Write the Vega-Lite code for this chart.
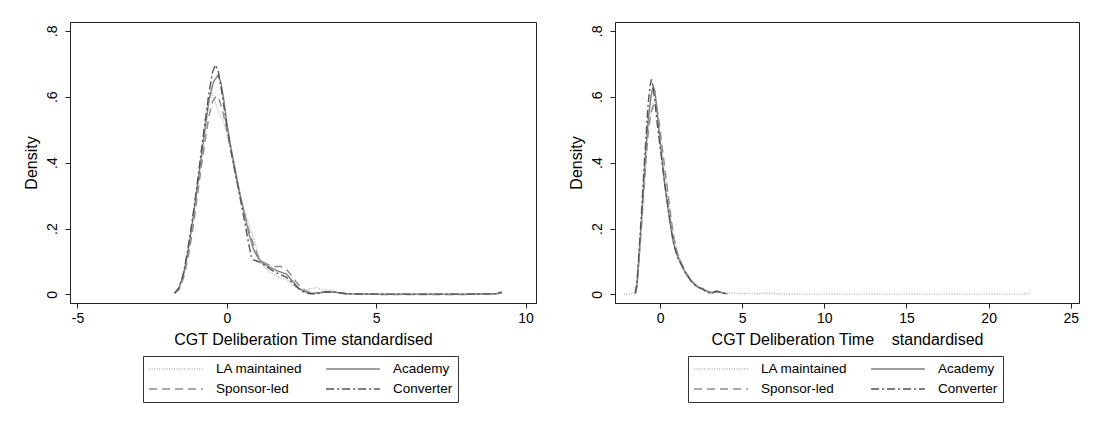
{
  "$schema": "https://vega.github.io/schema/vega-lite/v6.json",
  "background": "white",
  "padding": {"left": 22, "top": 21, "right": 5, "bottom": 5},
  "config": {
    "font": "Liberation Sans",
    "view": {"stroke": "#222", "strokeWidth": 1},
    "axis": {"grid": false, "domainColor": "#222", "tickColor": "#222", "labelColor": "black", "titleColor": "black", "titleFontWeight": "normal", "tickSize": 5, "labelFontSize": 14, "titleFontSize": 16, "labelFlush": false, "labelOverlap": false},
    "legend": {"title": null, "orient": "none", "legendX": 73, "legendY": 334, "direction": "horizontal", "columns": 2, "symbolType": "stroke", "symbolSize": 2900, "symbolStrokeWidth": 1.4, "labelFontSize": 13.5, "labelColor": "black", "labelOffset": 12, "columnPadding": 22, "rowPadding": 4, "clipHeight": 16, "padding": 5, "strokeColor": "#333", "labelLimit": 200},
    "concat": {"spacing": 30}
  },
  "datasets": {
    "left": [
      {"type":"LA maintained","x":-1.75,"y":0.004},{"type":"LA maintained","x":-1.6,"y":0.02},{"type":"LA maintained","x":-1.45,"y":0.06},{"type":"LA maintained","x":-1.3,"y":0.13},{"type":"LA maintained","x":-1.15,"y":0.21},{"type":"LA maintained","x":-1.0,"y":0.31},{"type":"LA maintained","x":-0.85,"y":0.41},{"type":"LA maintained","x":-0.72,"y":0.5},{"type":"LA maintained","x":-0.6,"y":0.58},{"type":"LA maintained","x":-0.52,"y":0.612},{"type":"LA maintained","x":-0.45,"y":0.6},{"type":"LA maintained","x":-0.35,"y":0.575},{"type":"LA maintained","x":-0.25,"y":0.55},{"type":"LA maintained","x":-0.1,"y":0.52},{"type":"LA maintained","x":0.0,"y":0.49},{"type":"LA maintained","x":0.15,"y":0.43},{"type":"LA maintained","x":0.3,"y":0.36},{"type":"LA maintained","x":0.45,"y":0.3},{"type":"LA maintained","x":0.6,"y":0.25},{"type":"LA maintained","x":0.75,"y":0.21},{"type":"LA maintained","x":0.9,"y":0.17},{"type":"LA maintained","x":1.05,"y":0.12},{"type":"LA maintained","x":1.2,"y":0.09},{"type":"LA maintained","x":1.4,"y":0.07},{"type":"LA maintained","x":1.6,"y":0.058},{"type":"LA maintained","x":1.8,"y":0.05},{"type":"LA maintained","x":2.0,"y":0.045},{"type":"LA maintained","x":2.2,"y":0.03},{"type":"LA maintained","x":2.4,"y":0.015},{"type":"LA maintained","x":2.6,"y":0.012},{"type":"LA maintained","x":2.8,"y":0.018},{"type":"LA maintained","x":3.0,"y":0.02},{"type":"LA maintained","x":3.2,"y":0.015},{"type":"LA maintained","x":3.5,"y":0.012},{"type":"LA maintained","x":3.8,"y":0.005},{"type":"LA maintained","x":4.2,"y":0.001},{"type":"LA maintained","x":5,"y":0.0},{"type":"LA maintained","x":6,"y":0.0},{"type":"LA maintained","x":7,"y":0.0},{"type":"LA maintained","x":8,"y":0.0},{"type":"LA maintained","x":9,"y":0.001},{"type":"LA maintained","x":9.2,"y":0.004},
      {"type":"Academy","x":-1.75,"y":0.004},{"type":"Academy","x":-1.6,"y":0.02},{"type":"Academy","x":-1.45,"y":0.06},{"type":"Academy","x":-1.3,"y":0.13},{"type":"Academy","x":-1.15,"y":0.22},{"type":"Academy","x":-1.0,"y":0.32},{"type":"Academy","x":-0.85,"y":0.42},{"type":"Academy","x":-0.72,"y":0.51},{"type":"Academy","x":-0.6,"y":0.59},{"type":"Academy","x":-0.45,"y":0.645},{"type":"Academy","x":-0.3,"y":0.665},{"type":"Academy","x":-0.2,"y":0.645},{"type":"Academy","x":-0.1,"y":0.59},{"type":"Academy","x":0.0,"y":0.52},{"type":"Academy","x":0.15,"y":0.44},{"type":"Academy","x":0.3,"y":0.37},{"type":"Academy","x":0.45,"y":0.3},{"type":"Academy","x":0.6,"y":0.24},{"type":"Academy","x":0.75,"y":0.18},{"type":"Academy","x":0.9,"y":0.135},{"type":"Academy","x":1.05,"y":0.11},{"type":"Academy","x":1.2,"y":0.095},{"type":"Academy","x":1.4,"y":0.085},{"type":"Academy","x":1.6,"y":0.075},{"type":"Academy","x":1.8,"y":0.068},{"type":"Academy","x":2.0,"y":0.062},{"type":"Academy","x":2.2,"y":0.04},{"type":"Academy","x":2.4,"y":0.02},{"type":"Academy","x":2.6,"y":0.008},{"type":"Academy","x":2.8,"y":0.004},{"type":"Academy","x":3.0,"y":0.004},{"type":"Academy","x":3.3,"y":0.008},{"type":"Academy","x":3.6,"y":0.007},{"type":"Academy","x":4.0,"y":0.002},{"type":"Academy","x":5,"y":0.001},{"type":"Academy","x":6,"y":0.001},{"type":"Academy","x":7,"y":0.001},{"type":"Academy","x":8,"y":0.001},{"type":"Academy","x":9,"y":0.002},{"type":"Academy","x":9.2,"y":0.006},
      {"type":"Sponsor-led","x":-1.75,"y":0.004},{"type":"Sponsor-led","x":-1.6,"y":0.015},{"type":"Sponsor-led","x":-1.45,"y":0.05},{"type":"Sponsor-led","x":-1.3,"y":0.11},{"type":"Sponsor-led","x":-1.15,"y":0.19},{"type":"Sponsor-led","x":-1.0,"y":0.29},{"type":"Sponsor-led","x":-0.85,"y":0.39},{"type":"Sponsor-led","x":-0.72,"y":0.47},{"type":"Sponsor-led","x":-0.6,"y":0.54},{"type":"Sponsor-led","x":-0.48,"y":0.585},{"type":"Sponsor-led","x":-0.35,"y":0.603},{"type":"Sponsor-led","x":-0.25,"y":0.59},{"type":"Sponsor-led","x":-0.15,"y":0.56},{"type":"Sponsor-led","x":0.0,"y":0.5},{"type":"Sponsor-led","x":0.15,"y":0.43},{"type":"Sponsor-led","x":0.3,"y":0.36},{"type":"Sponsor-led","x":0.45,"y":0.3},{"type":"Sponsor-led","x":0.6,"y":0.24},{"type":"Sponsor-led","x":0.75,"y":0.19},{"type":"Sponsor-led","x":0.9,"y":0.15},{"type":"Sponsor-led","x":1.05,"y":0.115},{"type":"Sponsor-led","x":1.2,"y":0.1},{"type":"Sponsor-led","x":1.4,"y":0.09},{"type":"Sponsor-led","x":1.6,"y":0.085},{"type":"Sponsor-led","x":1.8,"y":0.085},{"type":"Sponsor-led","x":1.95,"y":0.08},{"type":"Sponsor-led","x":2.1,"y":0.065},{"type":"Sponsor-led","x":2.3,"y":0.04},{"type":"Sponsor-led","x":2.5,"y":0.02},{"type":"Sponsor-led","x":2.7,"y":0.008},{"type":"Sponsor-led","x":2.9,"y":0.004},{"type":"Sponsor-led","x":3.2,"y":0.006},{"type":"Sponsor-led","x":3.5,"y":0.008},{"type":"Sponsor-led","x":3.8,"y":0.004},{"type":"Sponsor-led","x":4.2,"y":0.001},{"type":"Sponsor-led","x":5,"y":0.0},{"type":"Sponsor-led","x":6,"y":0.0},{"type":"Sponsor-led","x":7,"y":0.0},{"type":"Sponsor-led","x":8,"y":0.0},{"type":"Sponsor-led","x":9,"y":0.001},{"type":"Sponsor-led","x":9.2,"y":0.005},
      {"type":"Converter","x":-1.75,"y":0.004},{"type":"Converter","x":-1.6,"y":0.02},{"type":"Converter","x":-1.45,"y":0.065},{"type":"Converter","x":-1.3,"y":0.14},{"type":"Converter","x":-1.15,"y":0.23},{"type":"Converter","x":-1.0,"y":0.33},{"type":"Converter","x":-0.85,"y":0.44},{"type":"Converter","x":-0.72,"y":0.53},{"type":"Converter","x":-0.6,"y":0.61},{"type":"Converter","x":-0.48,"y":0.675},{"type":"Converter","x":-0.38,"y":0.697},{"type":"Converter","x":-0.28,"y":0.675},{"type":"Converter","x":-0.18,"y":0.62},{"type":"Converter","x":-0.08,"y":0.56},{"type":"Converter","x":0.0,"y":0.51},{"type":"Converter","x":0.15,"y":0.43},{"type":"Converter","x":0.3,"y":0.36},{"type":"Converter","x":0.45,"y":0.29},{"type":"Converter","x":0.6,"y":0.22},{"type":"Converter","x":0.72,"y":0.16},{"type":"Converter","x":0.82,"y":0.115},{"type":"Converter","x":0.9,"y":0.105},{"type":"Converter","x":1.05,"y":0.1},{"type":"Converter","x":1.2,"y":0.092},{"type":"Converter","x":1.4,"y":0.08},{"type":"Converter","x":1.6,"y":0.068},{"type":"Converter","x":1.8,"y":0.06},{"type":"Converter","x":2.0,"y":0.052},{"type":"Converter","x":2.2,"y":0.035},{"type":"Converter","x":2.4,"y":0.018},{"type":"Converter","x":2.6,"y":0.006},{"type":"Converter","x":2.8,"y":0.002},{"type":"Converter","x":3.0,"y":0.002},{"type":"Converter","x":3.3,"y":0.008},{"type":"Converter","x":3.6,"y":0.007},{"type":"Converter","x":4.0,"y":0.002},{"type":"Converter","x":5,"y":0.001},{"type":"Converter","x":6,"y":0.001},{"type":"Converter","x":7,"y":0.001},{"type":"Converter","x":8,"y":0.001},{"type":"Converter","x":9,"y":0.002},{"type":"Converter","x":9.2,"y":0.008}
    ],
    "right": [
      {"type":"LA maintained","x":-2.2,"y":0.0},{"type":"LA maintained","x":-1.8,"y":0.001},{"type":"LA maintained","x":-1.6,"y":0.005},{"type":"LA maintained","x":-1.45,"y":0.03},{"type":"LA maintained","x":-1.3,"y":0.1},{"type":"LA maintained","x":-1.15,"y":0.2},{"type":"LA maintained","x":-1.0,"y":0.31},{"type":"LA maintained","x":-0.85,"y":0.42},{"type":"LA maintained","x":-0.7,"y":0.51},{"type":"LA maintained","x":-0.55,"y":0.56},{"type":"LA maintained","x":-0.4,"y":0.58},{"type":"LA maintained","x":-0.3,"y":0.583},{"type":"LA maintained","x":-0.2,"y":0.57},{"type":"LA maintained","x":-0.05,"y":0.51},{"type":"LA maintained","x":0.1,"y":0.44},{"type":"LA maintained","x":0.25,"y":0.38},{"type":"LA maintained","x":0.4,"y":0.32},{"type":"LA maintained","x":0.6,"y":0.25},{"type":"LA maintained","x":0.8,"y":0.19},{"type":"LA maintained","x":1.0,"y":0.14},{"type":"LA maintained","x":1.2,"y":0.11},{"type":"LA maintained","x":1.4,"y":0.085},{"type":"LA maintained","x":1.6,"y":0.065},{"type":"LA maintained","x":1.8,"y":0.05},{"type":"LA maintained","x":2.0,"y":0.038},{"type":"LA maintained","x":2.2,"y":0.028},{"type":"LA maintained","x":2.5,"y":0.02},{"type":"LA maintained","x":2.8,"y":0.014},{"type":"LA maintained","x":3.1,"y":0.008},{"type":"LA maintained","x":3.4,"y":0.01},{"type":"LA maintained","x":3.8,"y":0.006},{"type":"LA maintained","x":4.2,"y":0.004},{"type":"LA maintained","x":5,"y":0.003},{"type":"LA maintained","x":6,"y":0.002},{"type":"LA maintained","x":6.6,"y":0.004},{"type":"LA maintained","x":7.2,"y":0.002},{"type":"LA maintained","x":8,"y":0.001},{"type":"LA maintained","x":10,"y":0.001},{"type":"LA maintained","x":12,"y":0.001},{"type":"LA maintained","x":14,"y":0.001},{"type":"LA maintained","x":16,"y":0.001},{"type":"LA maintained","x":18,"y":0.001},{"type":"LA maintained","x":20,"y":0.001},{"type":"LA maintained","x":22,"y":0.001},{"type":"LA maintained","x":22.6,"y":0.004},
      {"type":"Academy","x":-1.5,"y":0.003},{"type":"Academy","x":-1.4,"y":0.03},{"type":"Academy","x":-1.3,"y":0.1},{"type":"Academy","x":-1.15,"y":0.21},{"type":"Academy","x":-1.0,"y":0.33},{"type":"Academy","x":-0.85,"y":0.45},{"type":"Academy","x":-0.7,"y":0.54},{"type":"Academy","x":-0.55,"y":0.6},{"type":"Academy","x":-0.42,"y":0.633},{"type":"Academy","x":-0.32,"y":0.62},{"type":"Academy","x":-0.2,"y":0.57},{"type":"Academy","x":-0.05,"y":0.49},{"type":"Academy","x":0.1,"y":0.42},{"type":"Academy","x":0.25,"y":0.35},{"type":"Academy","x":0.4,"y":0.29},{"type":"Academy","x":0.6,"y":0.22},{"type":"Academy","x":0.8,"y":0.16},{"type":"Academy","x":1.0,"y":0.125},{"type":"Academy","x":1.2,"y":0.1},{"type":"Academy","x":1.4,"y":0.08},{"type":"Academy","x":1.6,"y":0.06},{"type":"Academy","x":1.8,"y":0.047},{"type":"Academy","x":2.0,"y":0.035},{"type":"Academy","x":2.2,"y":0.025},{"type":"Academy","x":2.4,"y":0.02},{"type":"Academy","x":2.6,"y":0.018},{"type":"Academy","x":2.8,"y":0.01},{"type":"Academy","x":3.0,"y":0.008},{"type":"Academy","x":3.2,"y":0.004},{"type":"Academy","x":3.4,"y":0.01},{"type":"Academy","x":3.6,"y":0.008},{"type":"Academy","x":3.8,"y":0.004},{"type":"Academy","x":4.1,"y":0.002},
      {"type":"Sponsor-led","x":-1.5,"y":0.003},{"type":"Sponsor-led","x":-1.4,"y":0.025},{"type":"Sponsor-led","x":-1.3,"y":0.09},{"type":"Sponsor-led","x":-1.15,"y":0.19},{"type":"Sponsor-led","x":-1.0,"y":0.3},{"type":"Sponsor-led","x":-0.85,"y":0.41},{"type":"Sponsor-led","x":-0.7,"y":0.5},{"type":"Sponsor-led","x":-0.55,"y":0.55},{"type":"Sponsor-led","x":-0.4,"y":0.575},{"type":"Sponsor-led","x":-0.3,"y":0.58},{"type":"Sponsor-led","x":-0.18,"y":0.565},{"type":"Sponsor-led","x":-0.05,"y":0.52},{"type":"Sponsor-led","x":0.1,"y":0.46},{"type":"Sponsor-led","x":0.25,"y":0.4},{"type":"Sponsor-led","x":0.4,"y":0.34},{"type":"Sponsor-led","x":0.55,"y":0.28},{"type":"Sponsor-led","x":0.7,"y":0.22},{"type":"Sponsor-led","x":0.85,"y":0.17},{"type":"Sponsor-led","x":1.0,"y":0.135},{"type":"Sponsor-led","x":1.2,"y":0.105},{"type":"Sponsor-led","x":1.4,"y":0.085},{"type":"Sponsor-led","x":1.6,"y":0.065},{"type":"Sponsor-led","x":1.8,"y":0.05},{"type":"Sponsor-led","x":2.0,"y":0.038},{"type":"Sponsor-led","x":2.2,"y":0.028},{"type":"Sponsor-led","x":2.4,"y":0.02},{"type":"Sponsor-led","x":2.6,"y":0.016},{"type":"Sponsor-led","x":2.8,"y":0.01},{"type":"Sponsor-led","x":3.0,"y":0.006},{"type":"Sponsor-led","x":3.2,"y":0.008},{"type":"Sponsor-led","x":3.5,"y":0.01},{"type":"Sponsor-led","x":3.8,"y":0.005},{"type":"Sponsor-led","x":4.1,"y":0.002},
      {"type":"Converter","x":-1.5,"y":0.003},{"type":"Converter","x":-1.4,"y":0.035},{"type":"Converter","x":-1.3,"y":0.11},{"type":"Converter","x":-1.15,"y":0.23},{"type":"Converter","x":-1.0,"y":0.36},{"type":"Converter","x":-0.85,"y":0.48},{"type":"Converter","x":-0.72,"y":0.58},{"type":"Converter","x":-0.6,"y":0.635},{"type":"Converter","x":-0.52,"y":0.653},{"type":"Converter","x":-0.42,"y":0.63},{"type":"Converter","x":-0.3,"y":0.58},{"type":"Converter","x":-0.15,"y":0.51},{"type":"Converter","x":0.0,"y":0.45},{"type":"Converter","x":0.15,"y":0.39},{"type":"Converter","x":0.3,"y":0.33},{"type":"Converter","x":0.5,"y":0.26},{"type":"Converter","x":0.7,"y":0.19},{"type":"Converter","x":0.9,"y":0.14},{"type":"Converter","x":1.1,"y":0.11},{"type":"Converter","x":1.3,"y":0.09},{"type":"Converter","x":1.5,"y":0.07},{"type":"Converter","x":1.7,"y":0.055},{"type":"Converter","x":1.9,"y":0.04},{"type":"Converter","x":2.1,"y":0.03},{"type":"Converter","x":2.3,"y":0.022},{"type":"Converter","x":2.5,"y":0.018},{"type":"Converter","x":2.7,"y":0.012},{"type":"Converter","x":2.9,"y":0.006},{"type":"Converter","x":3.1,"y":0.003},{"type":"Converter","x":3.3,"y":0.008},{"type":"Converter","x":3.5,"y":0.009},{"type":"Converter","x":3.8,"y":0.004},{"type":"Converter","x":4.1,"y":0.002}
    ]
  },
  "hconcat": [
    {
      "width": 466, "height": 281,
      "data": {"name": "left"},
      "mark": {"type": "line", "strokeWidth": 1.4, "clip": true},
      "encoding": {
        "x": {"field": "x", "type": "quantitative", "scale": {"domain": [-5.25, 10.35], "nice": false, "zero": false},
              "axis": {"values": [-5, 0, 5, 10], "title": "CGT Deliberation Time standardised", "labelExpr": "replace(datum.label, '\u2212', '-')", "labelPadding": 3, "titlePadding": 6}},
        "y": {"field": "y", "type": "quantitative", "scale": {"domain": [-0.026, 0.827], "nice": false, "zero": false},
              "axis": {"values": [0, 0.2, 0.4, 0.6, 0.8], "title": "Density", "labelExpr": "datum.value == 0 ? '0' : replace(format(datum.value, '.1f'), '0.', '.')", "labelAngle": -90, "labelAlign": "center", "labelBaseline": "bottom", "labelPadding": 6, "titlePadding": 6}},
        "color": {"field": "type", "type": "nominal",
                  "scale": {"domain": ["LA maintained", "Academy", "Sponsor-led", "Converter"], "range": ["#b4b4b4", "#7f7f7f", "#8c8c8c", "#555555"]},
                  "legend": {"legendX": 73, "legendY": 334}},
        "strokeDash": {"field": "type", "type": "nominal",
                  "scale": {"domain": ["LA maintained", "Academy", "Sponsor-led", "Converter"], "range": [[1, 1.5], [1, 0], [8, 5], [8, 3, 2, 3]]},
                  "legend": {"legendX": 73, "legendY": 334}}
      }
    },
    {
      "width": 464, "height": 281,
      "data": {"name": "right"},
      "mark": {"type": "line", "strokeWidth": 1.4, "clip": true},
      "encoding": {
        "x": {"field": "x", "type": "quantitative", "scale": {"domain": [-2.74, 25.5], "nice": false, "zero": false},
              "axis": {"values": [0, 5, 10, 15, 20, 25], "title": "CGT Deliberation Time\u00a0\u00a0\u00a0\u00a0standardised", "labelPadding": 3, "titlePadding": 6}},
        "y": {"field": "y", "type": "quantitative", "scale": {"domain": [-0.026, 0.827], "nice": false, "zero": false},
              "axis": {"values": [0, 0.2, 0.4, 0.6, 0.8], "title": "Density", "labelExpr": "datum.value == 0 ? '0' : replace(format(datum.value, '.1f'), '0.', '.')", "labelAngle": -90, "labelAlign": "center", "labelBaseline": "bottom", "labelPadding": 6, "titlePadding": 6}},
        "color": {"field": "type", "type": "nominal",
                  "scale": {"domain": ["LA maintained", "Academy", "Sponsor-led", "Converter"], "range": ["#b4b4b4", "#7f7f7f", "#8c8c8c", "#555555"]},
                  "legend": {"legendX": 73, "legendY": 334}},
        "strokeDash": {"field": "type", "type": "nominal",
                  "scale": {"domain": ["LA maintained", "Academy", "Sponsor-led", "Converter"], "range": [[1, 1.5], [1, 0], [8, 5], [8, 3, 2, 3]]},
                  "legend": {"legendX": 73, "legendY": 334}}
      }
    }
  ],
  "resolve": {
    "scale": {"x": "independent", "y": "independent", "color": "independent", "strokeDash": "independent"},
    "legend": {"color": "independent", "strokeDash": "independent"}
  }
}
